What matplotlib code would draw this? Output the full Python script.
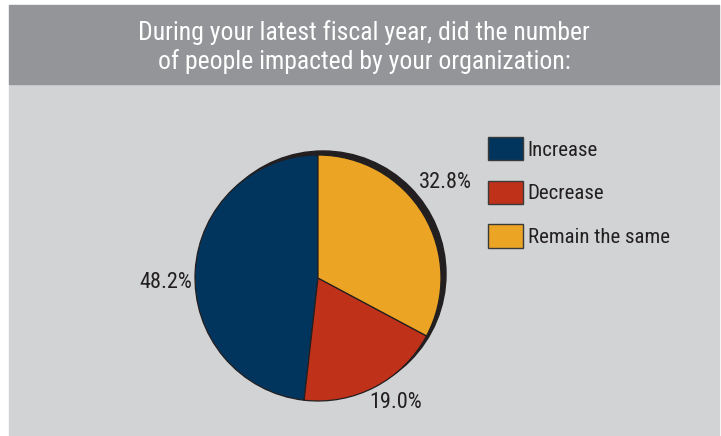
import matplotlib
matplotlib.use("Agg")
import matplotlib.pyplot as plt
from matplotlib.patches import Rectangle, Circle, Patch

plt.rcParams['font.family'] = ['Roboto Condensed', 'Liberation Sans Narrow',
                               'Liberation Sans', 'DejaVu Sans']

# Survey answers
title = "During your latest fiscal year, did the number\nof people impacted by your organization:"
categories = ["Increase", "Decrease", "Remain the same"]
shares = [48.2, 19.0, 32.8]
colors = ["#02355e", "#bf3119", "#eca424"]

# Styling
header_color = "#939598"
panel_color = "#d1d3d4"
ink = "#231f20"

W, H = 721, 436
fig = plt.figure(figsize=(W / 100, H / 100), dpi=100)
fig.patch.set_facecolor("white")
ax = fig.add_axes([0, 0, 1, 1])

# Background panel and header band
ax.add_patch(Rectangle((9, 0), W - 11, H - 84, color=panel_color, zorder=0))
ax.add_patch(Rectangle((9, H - 84), W - 11, 79, color=header_color, zorder=0))
ax.text(364, H - 47, title, ha="center", va="center", color="white",
        fontsize=18.5, linespacing=1.2, zorder=3)

# Pie with a dark drop shadow behind it
cx, cy, r = 318, H - 278, 123
ax.add_patch(Circle((cx + 5, cy + 4), r, color=ink, zorder=1))
wedges, _, pct = ax.pie(shares, colors=colors, startangle=90, counterclock=True,
                        center=(cx, cy), radius=r, frame=True,
                        autopct="%.1f%%", pctdistance=1.24,
                        wedgeprops=dict(edgecolor=ink, linewidth=0.9),
                        textprops=dict(fontsize=16, color=ink))
for w in wedges:
    w.set_zorder(2)

# nudge the percentage labels off the rim
label_xy = [(166, H - 283), (396, H - 403), (445, H - 182)]
for t, xy in zip(pct, label_xy):
    t.set_position(xy)
    t.set_zorder(3)

ax.set_xlim(0, W)
ax.set_ylim(0, H)
ax.set_aspect("equal")
ax.set_axis_off()

handles = [Patch(facecolor=c, edgecolor="#3a3a3a", linewidth=1.0) for c in colors]
fig.legend(handles, categories, loc="upper left", bbox_to_anchor=(488 / W, 1 - 137 / H),
           frameon=False, fontsize=15, handlelength=1.68, handleheight=1.35,
           handletextpad=0.22, labelspacing=0.97, labelcolor=ink, borderaxespad=0,
           borderpad=0)

fig.savefig("out.png", dpi=100)
